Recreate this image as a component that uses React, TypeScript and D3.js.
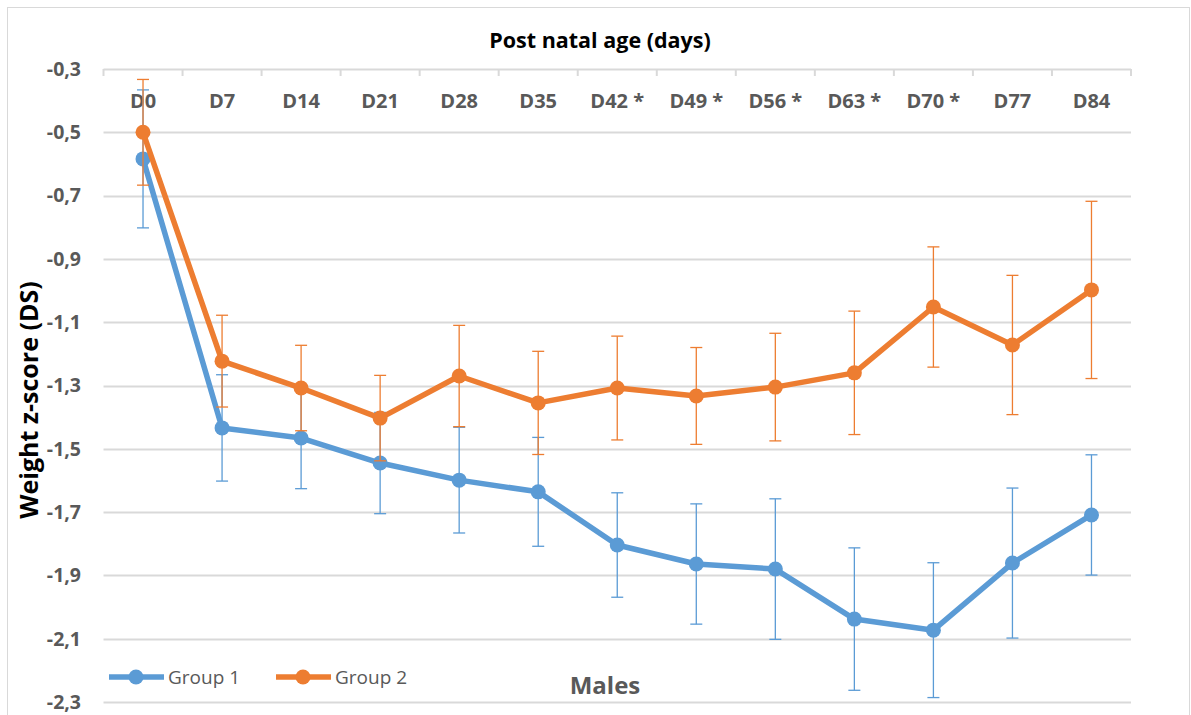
import React, { useRef, useEffect } from "react";
import * as d3 from "d3";

const categories = ["D0", "D7", "D14", "D21", "D28", "D35", "D42 *", "D49 *", "D56 *", "D63 *", "D70 *", "D77", "D84"];
const group1 = [-0.584, -1.434, -1.466, -1.545, -1.599, -1.636, -1.804, -1.864, -1.88, -2.038, -2.073, -1.861, -1.709];
const group1Err = [0.218, 0.168, 0.16, 0.16, 0.167, 0.172, 0.165, 0.19, 0.222, 0.225, 0.213, 0.237, 0.19];
const group2 = [-0.5, -1.223, -1.308, -1.403, -1.27, -1.355, -1.308, -1.333, -1.305, -1.26, -1.052, -1.172, -0.998];
const group2Err = [0.167, 0.145, 0.135, 0.135, 0.16, 0.163, 0.164, 0.153, 0.17, 0.195, 0.19, 0.22, 0.28];
const yTicks = [-0.3, -0.5, -0.7, -0.9, -1.1, -1.3, -1.5, -1.7, -1.9, -2.1, -2.3];

const W = 1191;
const H = 715;
const FONT = "'Open Sans', sans-serif";
const TEXT = "#595959";

const App: React.FC = () => {
    const ref = useRef<SVGSVGElement | null>(null);

    useEffect(() => {
        if (!ref.current) return;
        const svg = d3.select(ref.current);
        svg.selectAll("*").remove();

        const margin = { top: 69, left: 103.5, right: 60, bottom: 13 };

        // chart border
        svg.append("rect")
            .attr("x", 7.5).attr("y", 7.5)
            .attr("width", 1182).attr("height", 720)
            .attr("fill", "white").attr("stroke", "#d9d9d9");

        const x = d3.scaleBand<string>()
            .domain(categories)
            .range([margin.left, W - margin.right]);

        const y = d3.scaleLinear()
            .domain([-0.3, -2.3])
            .range([margin.top, H - margin.bottom]);

        // gridlines
        svg.append("g")
            .selectAll("line")
            .data(yTicks)
            .enter()
            .append("line")
            .attr("x1", margin.left)
            .attr("x2", W - margin.right)
            .attr("y1", d => Math.round(y(d)) + 0.5)
            .attr("y2", d => Math.round(y(d)) + 0.5)
            .attr("stroke", "#d9d9d9")
            .attr("stroke-width", 2);

        // y tick labels
        svg.append("g")
            .selectAll("text")
            .data(yTicks)
            .enter()
            .append("text")
            .attr("x", 81)
            .attr("y", d => y(d))
            .attr("dy", "0.35em")
            .attr("text-anchor", "end")
            .attr("font-family", FONT)
            .attr("font-weight", "bold")
            .attr("font-size", 19.5)
            .attr("fill", TEXT)
            .text(d => d3.format(".1f")(d).replace(".", ",").replace("−", "-"));

        // category ticks at top axis
        const bounds = categories.map(c => x(c)!).concat([W - margin.right]);
        svg.append("g")
            .selectAll("line")
            .data(bounds)
            .enter()
            .append("line")
            .attr("x1", d => d).attr("x2", d => d)
            .attr("y1", y(-0.3)).attr("y2", y(-0.3) + 7)
            .attr("stroke", "#d9d9d9").attr("stroke-width", 2);

        svg.append("g")
            .selectAll("text")
            .data(categories)
            .enter()
            .append("text")
            .attr("x", d => x(d)! + x.bandwidth() / 2)
            .attr("y", 108)
            .attr("text-anchor", "middle")
            .attr("font-family", FONT)
            .attr("font-weight", "bold")
            .attr("font-size", 20)
            .attr("fill", TEXT)
            .text(d => d);

        const cx = (i: number) => x(categories[i])! + x.bandwidth() / 2;

        const drawSeries = (vals: number[], errs: number[], color: string) => {
            const g = svg.append("g");
            g.selectAll("line.err")
                .data(vals)
                .enter()
                .append("line")
                .attr("x1", (_, i) => cx(i)).attr("x2", (_, i) => cx(i))
                .attr("y1", (d, i) => y(d + errs[i]))
                .attr("y2", (d, i) => y(d - errs[i]))
                .attr("stroke", color).attr("stroke-width", 1.3);
            [1, -1].forEach(s => {
                g.selectAll(null)
                    .data(vals)
                    .enter()
                    .append("line")
                    .attr("x1", (_, i) => cx(i) - 6).attr("x2", (_, i) => cx(i) + 6)
                    .attr("y1", (d, i) => y(d + s * errs[i]))
                    .attr("y2", (d, i) => y(d + s * errs[i]))
                    .attr("stroke", color).attr("stroke-width", 1.3);
            });
            const line = d3.line<number>()
                .x((_, i) => cx(i))
                .y(d => y(d));
            g.append("path")
                .datum(vals)
                .attr("fill", "none")
                .attr("stroke", color)
                .attr("stroke-width", 5.5)
                .attr("stroke-linejoin", "round")
                .attr("d", line);
            g.selectAll("circle")
                .data(vals)
                .enter()
                .append("circle")
                .attr("cx", (_, i) => cx(i))
                .attr("cy", d => y(d))
                .attr("r", 7.5)
                .attr("fill", color);
        };

        drawSeries(group1, group1Err, "#5b9bd5");
        drawSeries(group2, group2Err, "#ed7d31");

        // titles
        svg.append("text")
            .attr("x", 600).attr("y", 48)
            .attr("text-anchor", "middle")
            .attr("font-family", FONT).attr("font-weight", "bold")
            .attr("font-size", 21.5).attr("fill", "black")
            .text("Post natal age (days)");

        svg.append("text")
            .attr("transform", `translate(38,${400}) rotate(-90)`)
            .attr("text-anchor", "middle")
            .attr("font-family", FONT).attr("font-weight", "bold")
            .attr("font-size", 25).attr("fill", "black")
            .text("Weight z-score (DS)");

        svg.append("text")
            .attr("x", 605).attr("y", 694)
            .attr("text-anchor", "middle")
            .attr("font-family", FONT).attr("font-weight", "bold")
            .attr("font-size", 24).attr("fill", TEXT)
            .text("Males");

        // legend
        const legend = [
            { name: "Group 1", color: "#5b9bd5", x: 109 },
            { name: "Group 2", color: "#ed7d31", x: 276 },
        ];
        const lg = svg.append("g");
        legend.forEach(l => {
            lg.append("line")
                .attr("x1", l.x).attr("x2", l.x + 55)
                .attr("y1", 677).attr("y2", 677)
                .attr("stroke", l.color).attr("stroke-width", 5.5);
            lg.append("circle")
                .attr("cx", l.x + 27).attr("cy", 677).attr("r", 7.5)
                .attr("fill", l.color);
            lg.append("text")
                .attr("x", l.x + 59).attr("y", 677)
                .attr("dy", "0.35em")
                .attr("font-family", FONT)
                .attr("font-size", 19).attr("fill", TEXT)
                .text(l.name);
        });
    }, []);

    return (
        <svg
            ref={ref}
            width={W}
            height={H}
            style={{ position: "absolute", left: 0, top: 0, background: "white" }}
        />
    );
};

export default App;
